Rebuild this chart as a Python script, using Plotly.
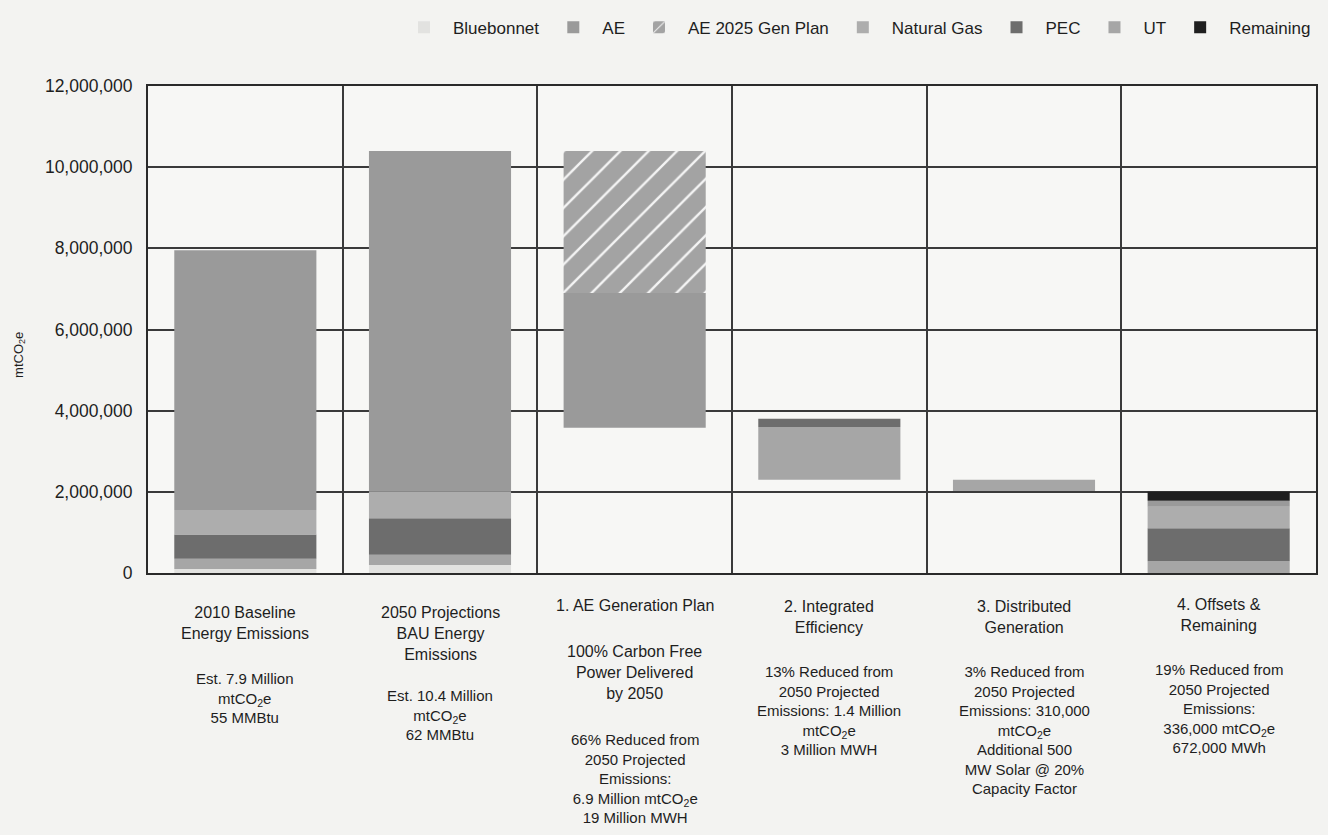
import plotly.graph_objects as go

# ---------------- data (metric tons CO2e) ----------------
categories = ["2010 Baseline", "2050 BAU", "AE Generation Plan",
              "Integrated Efficiency", "Distributed Generation", "Offsets & Remaining"]

floor_values      = [0,       0,        3580000, 2300000, 2020000, 0]
bluebonnet_values = [100000,  200000,   0,       0,       0,       0]
ut_values         = [250000,  250000,   0,       1300000, 280000,  290000]
pec_values        = [600000,  900000,   0,       200000,  0,       810000]
natural_gas       = [600000,  650000,   0,       0,       0,       530000]
ae_values         = [6400000, 8400000,  3320000, 0,       0,       150000]
ae_2025_gen_plan  = [0,       0,        3500000, 0,       0,       0]
remaining_values  = [0,       0,        0,       0,       0,       220000]

y_tick_values = [0, 2000000, 4000000, 6000000, 8000000, 10000000, 12000000]
y_axis_title = "mtCO<sub>2</sub>e"

title_labels = [
    "2010 Baseline<br>Energy Emissions",
    "2050 Projections<br>BAU Energy<br>Emissions",
    "1. AE Generation Plan",
    "2. Integrated<br>Efficiency",
    "3. Distributed<br>Generation",
    "4. Offsets &<br>Remaining",
]
sub_title_labels = ["", "", "100% Carbon Free<br>Power Delivered<br>by 2050", "", "", ""]
detail_labels = [
    "Est. 7.9 Million<br>mtCO<sub>2</sub>e<br>55 MMBtu",
    "Est. 10.4 Million<br>mtCO<sub>2</sub>e<br>62 MMBtu",
    "66% Reduced from<br>2050 Projected<br>Emissions:<br>6.9 Million mtCO<sub>2</sub>e<br>19 Million MWH",
    "13% Reduced from<br>2050 Projected<br>Emissions: 1.4 Million<br>mtCO<sub>2</sub>e<br>3 Million MWH",
    "3% Reduced from<br>2050 Projected<br>Emissions: 310,000<br>mtCO<sub>2</sub>e<br>Additional 500<br>MW Solar @ 20%<br>Capacity Factor",
    "19% Reduced from<br>2050 Projected<br>Emissions:<br>336,000 mtCO<sub>2</sub>e<br>672,000 MWh",
]

# ---------------- styling ----------------
PLOT_LEFT, PLOT_RIGHT = 148, 1318
PLOT_TOP, PLOT_BOTTOM, H = 80, 573, 835
PLOT_H = PLOT_BOTTOM - PLOT_TOP
TEXT = "#1e1e1e"
FONT = "Liberation Sans, Arial, sans-serif"

def py(px):
    return (PLOT_BOTTOM - px) / PLOT_H

def px_x(px):
    return (px - PLOT_LEFT) / (PLOT_RIGHT - PLOT_LEFT)

title_tops  = [602, 602, 595, 596, 596, 594]
sub_tops    = [None, None, 642, None, None, None]
detail_tops = [669, 686, 731, 662, 662, 660]

fig = go.Figure()
BAR_W = 0.73

# stacking order (bottom -> top), legend order given by rank
series = [
    ("Bluebonnet", bluebonnet_values, "#e2e2e0", 1, False),
    ("UT", ut_values, "#a6a6a6", 6, False),
    ("PEC", pec_values, "#6d6d6d", 5, False),
    ("Natural Gas", natural_gas, "#adadad", 4, False),
    ("AE", ae_values, "#9a9a9a", 2, False),
    ("AE 2025 Gen Plan", ae_2025_gen_plan, "#a3a3a3", 3, True),
    ("Remaining", remaining_values, "#1f1f1f", 7, False),
]
running = list(floor_values)
for name, vals, col, rank, hatch in series:
    base = list(running)
    running = [r + v for r, v in zip(running, vals)]
    marker = dict(color=col, line=dict(width=0))
    if hatch:
        marker["pattern"] = dict(shape="/", fillmode="replace", bgcolor=col,
                                 fgcolor="#f4f4f4", size=20, solidity=0.12)
    fig.add_trace(go.Bar(x=categories, y=vals, base=base, name=name, marker=marker,
                         width=BAR_W, legendrank=rank))

annotations = []
for i, cat in enumerate(categories):
    annotations.append(dict(x=cat, xref="x", y=py(title_tops[i]), yref="paper",
                            yanchor="top", xanchor="center", showarrow=False,
                            text=title_labels[i], font=dict(size=16, color=TEXT, family=FONT)))
    if sub_tops[i]:
        annotations.append(dict(x=cat, xref="x", y=py(sub_tops[i]), yref="paper",
                                yanchor="top", xanchor="center", showarrow=False,
                                text=sub_title_labels[i], font=dict(size=16, color=TEXT, family=FONT)))
    annotations.append(dict(x=cat, xref="x", y=py(detail_tops[i]), yref="paper",
                            yanchor="top", xanchor="center", showarrow=False,
                            text=detail_labels[i], font=dict(size=15, color=TEXT, family=FONT)))

# y-axis title
annotations.append(dict(x=px_x(19), xref="paper", y=py(352), yref="paper",
                        xanchor="center", yanchor="middle", showarrow=False, textangle=-90,
                        text=y_axis_title, font=dict(size=13, color=TEXT, family=FONT)))

fig.update_layout(
    width=1328, height=835,
    barmode="overlay",
    margin=dict(l=PLOT_LEFT, r=1328 - PLOT_RIGHT, t=PLOT_TOP, b=H - PLOT_BOTTOM),
    paper_bgcolor="#f3f3f1",
    plot_bgcolor="#f7f7f5",
    font=dict(family=FONT, color=TEXT, size=14),
    legend=dict(orientation="h", x=1.0, xanchor="right", y=py(21), yanchor="middle",
                font=dict(size=17, color=TEXT), traceorder="normal",
                bgcolor="rgba(0,0,0,0)", itemwidth=48),
    annotations=annotations,
    xaxis=dict(showticklabels=False, ticks="", tickson="boundaries", showgrid=True,
               gridcolor="#3a3a3a", gridwidth=1.5, showline=True, linecolor="#2a2a2a",
               linewidth=2, mirror=True, zeroline=False),
    yaxis=dict(range=[0, 12000000], tickvals=y_tick_values, tickformat=",",
               showgrid=True, gridcolor="#3a3a3a", gridwidth=1.5, showline=True,
               linecolor="#2a2a2a", linewidth=2, mirror=True, zeroline=False,
               ticks="", ticklen=0, ticklabelstandoff=10,
               tickfont=dict(size=17.5, color=TEXT)),
)

fig.write_html("out.html")
